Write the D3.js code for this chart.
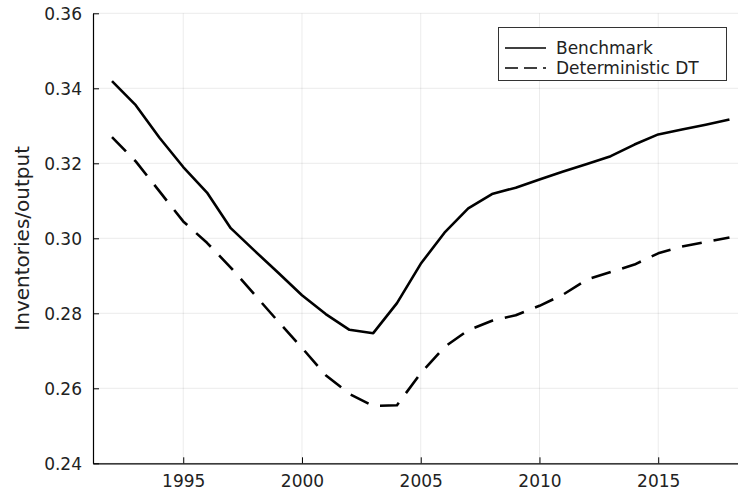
<!DOCTYPE html>
<html>
<head>
<meta charset="utf-8">
<script src="https://cdn.jsdelivr.net/npm/d3@7"></script>
<style>
  body { margin: 0; background: #fff; }
  svg { display: block; font-family: "DejaVu Sans", sans-serif; }
</style>
</head>
<body>
<svg width="738" height="493"></svg>
<script>
var years = [1992, 1993, 1994, 1995, 1996, 1997, 1998, 1999, 2000, 2001, 2002, 2003, 2004,
    2005, 2006, 2007, 2008, 2009, 2010, 2011, 2012, 2013, 2014, 2015, 2016, 2017, 2018];

var benchmark = [0.3419, 0.3355, 0.3268, 0.3190, 0.3122, 0.3027, 0.2967, 0.2908, 0.2848,
    0.2798, 0.2756, 0.2747, 0.2827, 0.2932, 0.3015, 0.3080, 0.3118, 0.3135, 0.3157,
    0.3178, 0.3198, 0.3219, 0.3250, 0.3277, 0.3290, 0.3303, 0.3317];

var deterministic = [0.3270, 0.3205, 0.3125, 0.3045, 0.2988, 0.2922, 0.2850, 0.2778, 0.2708,
    0.2635, 0.2585, 0.2553, 0.2555, 0.2640, 0.2710, 0.2755, 0.2780, 0.2795, 0.2820,
    0.2850, 0.2890, 0.2910, 0.2930, 0.2960, 0.2978, 0.2990, 0.3002];

var xTicks = [1995, 2000, 2005, 2010, 2015];
var yTicks = [0.24, 0.26, 0.28, 0.30, 0.32, 0.34, 0.36];

var series = [
    { name: "Benchmark", values: benchmark, dash: null },
    { name: "Deterministic DT", values: deterministic, dash: "20,12" }
];

var svg = d3.select("svg"),
    width = +svg.attr("width"),
    height = +svg.attr("height");

var plotLeft = 93, plotRight = 738, plotTop = 13.3, plotBottom = 463.3;

var x = d3.scaleLinear().domain([1991.2, 2018.36]).range([plotLeft, plotRight]);
var y = d3.scaleLinear().domain([0.24, 0.36]).range([plotBottom, plotTop]);

// grid
svg.append("g")
  .selectAll("line")
  .data(xTicks)
  .enter().append("line")
    .attr("x1", function(d) { return x(d); })
    .attr("x2", function(d) { return x(d); })
    .attr("y1", plotTop)
    .attr("y2", plotBottom)
    .attr("stroke", "#000")
    .attr("stroke-opacity", 0.08)
    .attr("stroke-width", 1);

svg.append("g")
  .selectAll("line")
  .data(yTicks)
  .enter().append("line")
    .attr("x1", plotLeft)
    .attr("x2", plotRight)
    .attr("y1", function(d) { return y(d); })
    .attr("y2", function(d) { return y(d); })
    .attr("stroke", "#000")
    .attr("stroke-opacity", 0.08)
    .attr("stroke-width", 1);

// axes (ticks inward)
var xAxis = svg.append("g")
    .attr("transform", "translate(0," + plotBottom + ")")
    .call(d3.axisBottom(x).tickValues(xTicks).tickFormat(d3.format("d")).tickSizeInner(-6).tickSizeOuter(0));

var yAxis = svg.append("g")
    .attr("transform", "translate(" + plotLeft + ",0)")
    .call(d3.axisLeft(y).tickValues(yTicks).tickFormat(d3.format(".2f")).tickSizeInner(-6).tickSizeOuter(0));

[xAxis, yAxis].forEach(function(g) {
  g.select(".domain").attr("stroke", "#000").attr("stroke-width", 1.2);
  g.selectAll(".tick line").attr("stroke", "#000").attr("stroke-width", 1);
  g.selectAll(".tick text")
      .attr("fill", "#222")
      .style("font-size", "17px")
      .style("font-family", "DejaVu Sans, sans-serif");
});

xAxis.selectAll(".tick text").attr("y", 12).attr("dy", "0.71em");
yAxis.selectAll(".tick text").attr("x", -11).attr("dy", "0.36em");

// y label
svg.append("text")
    .attr("transform", "translate(29," + ((plotTop + plotBottom) / 2) + ") rotate(-90)")
    .attr("text-anchor", "middle")
    .attr("fill", "#222")
    .style("font-size", "20px")
    .text("Inventories/output");

// lines
var line = d3.line()
    .x(function(d, i) { return x(years[i]); })
    .y(function(d) { return y(d); });

svg.append("g")
  .selectAll("path")
  .data(series)
  .enter().append("path")
    .attr("d", function(d) { return line(d.values); })
    .attr("fill", "none")
    .attr("stroke", "#000")
    .attr("stroke-width", 2.6)
    .attr("stroke-linejoin", "round")
    .attr("stroke-dasharray", function(d) { return d.dash; });

// legend
var legend = svg.append("g");

legend.append("rect")
    .attr("x", 498.5)
    .attr("y", 27.5)
    .attr("width", 228)
    .attr("height", 53)
    .attr("fill", "#fff")
    .attr("stroke", "#333")
    .attr("stroke-width", 1);

var item = legend.selectAll("g")
  .data(series)
  .enter().append("g")
    .attr("transform", function(d, i) { return "translate(0," + (48 + i * 20) + ")"; });

item.append("line")
    .attr("x1", 505)
    .attr("x2", 546)
    .attr("y1", 0)
    .attr("y2", 0)
    .attr("stroke", "#000")
    .attr("stroke-width", 1.6)
    .attr("stroke-dasharray", function(d) { return d.dash ? "13,6" : null; });

item.append("text")
    .attr("x", 556)
    .attr("dy", "0.36em")
    .attr("fill", "#222")
    .style("font-size", "17px")
    .text(function(d) { return d.name; });
</script>
</body>
</html>
